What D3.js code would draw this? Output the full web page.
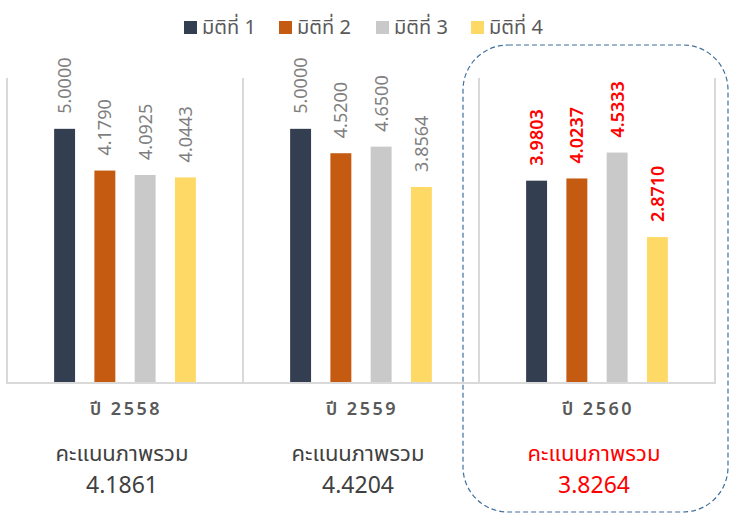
<!DOCTYPE html>
<html>
<head>
<meta charset="utf-8">
<script src="https://cdn.jsdelivr.net/npm/d3@7"></script>
<style>
  html, body { margin: 0; padding: 0; background: #fff; }
  svg { display: block; }
  text { font-family: "Noto Sans", "Noto Sans Thai", "Open Sans", sans-serif; }
</style>
</head>
<body>
<svg id="chart" width="731" height="517"></svg>
<script>
// Survey scores by dimension, three academic years
const years = ["ปี 2558", "ปี 2559", "ปี 2560"];
const dimensions = ["มิติที่ 1", "มิติที่ 2", "มิติที่ 3", "มิติที่ 4"];
const scores2558 = [5.0000, 4.1790, 4.0925, 4.0443];
const scores2559 = [5.0000, 4.5200, 4.6500, 3.8564];
const scores2560 = [3.9803, 4.0237, 4.5333, 2.8710];
const overallScores = ["4.1861", "4.4204", "3.8264"];
const overallLabel = "คะแนนภาพรวม";
const colors = ["#333F50", "#C55A11", "#C9C9C9", "#FFD966"];

const allScores = [scores2558, scores2559, scores2560];
const highlightYear = 2;

const svg = d3.select("#chart");
const plot = { left: 7, right: 715, top: 78, bottom: 383 };

const x0 = d3.scaleBand().domain(years).range([plot.left, plot.right]).padding(0);
const x1 = d3.scaleBand().domain(dimensions).range([0, x0.bandwidth()])
  .paddingInner(0.48).paddingOuter(1.17);
const y = d3.scaleLinear().domain([0, 6]).range([plot.bottom, plot.top]);

// Group separators
const seps = years.map(d => x0(d)).concat([plot.right]);
svg.append("g").selectAll("line").data(seps).join("line")
  .attr("x1", d => d).attr("x2", d => d)
  .attr("y1", plot.top).attr("y2", plot.bottom)
  .attr("stroke", "#D9D9D9").attr("stroke-width", 2);

// Bars with rotated value labels
const groups = svg.append("g").selectAll("g").data(years).join("g")
  .attr("transform", d => `translate(${x0(d)},0)`);

groups.each(function (yr, gi) {
  const g = d3.select(this);
  const vals = allScores[gi].map((v, i) => ({ dim: dimensions[i], v, i }));
  g.selectAll("rect").data(vals).join("rect")
    .attr("x", d => x1(d.dim))
    .attr("width", x1.bandwidth())
    .attr("y", d => y(d.v))
    .attr("height", d => y(0) - y(d.v))
    .attr("fill", d => colors[d.i]);
  const hl = gi === highlightYear;
  g.selectAll("text.val").data(vals).join("text")
    .attr("class", "val")
    .attr("transform", d => `translate(${x1(d.dim) + x1.bandwidth() / 2 + 6.5},${y(d.v) - 15}) rotate(-90)`)
    .attr("text-anchor", "start")
    .attr("font-size", 18)
    .attr("font-weight", hl ? 600 : 400)
    .attr("fill", hl ? "#FF0000" : "#7F7F7F")
    .text(d => d.v.toFixed(4));
});

// Baseline
svg.append("line")
  .attr("x1", plot.left - 1).attr("x2", plot.right + 1)
  .attr("y1", plot.bottom).attr("y2", plot.bottom)
  .attr("stroke", "#D9D9D9").attr("stroke-width", 2);

// Category labels
svg.append("g").selectAll("text").data(years).join("text")
  .attr("x", d => x0(d) + x0.bandwidth() / 2 + 1)
  .attr("y", 415)
  .attr("text-anchor", "middle")
  .attr("font-size", 18)
  .attr("font-weight", 600)
  .attr("letter-spacing", 2.5)
  .attr("fill", "#595959")
  .text(d => d);

// Overall score captions
const cap = svg.append("g").selectAll("g").data(years).join("g");
cap.append("text")
  .attr("x", d => x0(d) + x0.bandwidth() / 2 - 3)
  .attr("y", 461)
  .attr("text-anchor", "middle")
  .attr("font-size", 22)
  .attr("fill", (d, i) => i === highlightYear ? "#FF0000" : "#404040")
  .text(overallLabel);
cap.append("text")
  .attr("x", d => x0(d) + x0.bandwidth() / 2 - 3)
  .attr("y", 493)
  .attr("text-anchor", "middle")
  .attr("font-size", 23)
  .attr("fill", (d, i) => i === highlightYear ? "#FF0000" : "#404040")
  .text((d, i) => overallScores[i]);

// Highlight frame around the latest year
svg.append("rect")
  .attr("x", 463).attr("y", 45).attr("width", 265).attr("height", 467)
  .attr("rx", 45).attr("ry", 45)
  .attr("fill", "none")
  .attr("stroke", "#41719C").attr("stroke-width", 1.2)
  .attr("stroke-dasharray", "5,3");

// Legend
const legendX = [184, 279, 376, 471];
const leg = svg.append("g").selectAll("g").data(dimensions).join("g")
  .attr("transform", (d, i) => `translate(${legendX[i]},21)`);
leg.append("rect").attr("width", 13).attr("height", 13).attr("fill", (d, i) => colors[i]);
leg.append("text").attr("x", 18).attr("y", 13)
  .attr("font-size", 20).attr("fill", "#595959").text(d => d);
</script>
</body>
</html>
